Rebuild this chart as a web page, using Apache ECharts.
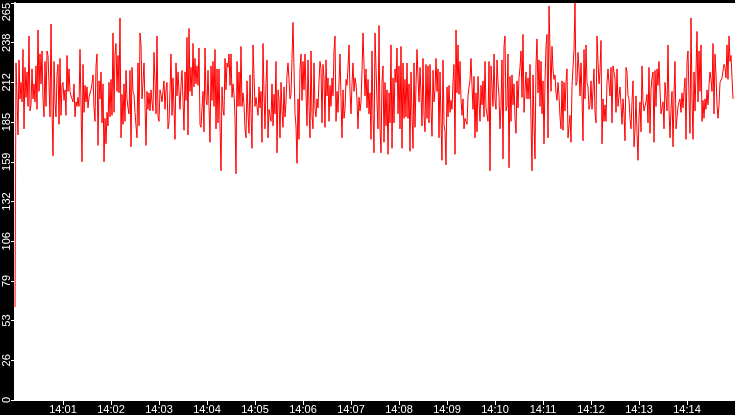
<!DOCTYPE html>
<html>
<head>
<meta charset="utf-8">
<script src="https://cdn.jsdelivr.net/npm/echarts@6/dist/echarts.min.js"></script>
<style>
html,body{margin:0;padding:0;background:#000;}
#chart{width:735px;height:415px;}
</style>
</head>
<body>
<div id="chart"></div>
<script>
// Sampling: one reading every 1.25 s starting 14:00:00
const sampleSeconds = 1.25;
const xTickLabels = ['14:00','14:01','14:02','14:03','14:04','14:05','14:06','14:07','14:08','14:09','14:10','14:11','14:12','14:13','14:14','14:15'];
const yTickLabels = ['0','26','53','79','106','132','159','185','212','238','265'];

// Values, 14:00:00 - 14:02:28
const valuesA = [62,225,202,177,227,201,212,199,234,181,222,202,219,196,243,193,197,221,201,211,199,223,194,247,206,231,211,233,201,189,226,196,233,230,211,189,251,194,163,226,199,189,217,224,184,228,190,210,212,200,207,190,230,206,221,206,203,201,199,211,189,199,196,202,196,234,197,159,224,192,210,199,209,195,202,205,207,211,217,195,186,223,231,170,213,201,219,185,211,159,188,171,192,183,212,189,214,190,245,192,231,238,206,230,205,255,175,204,184,211,186,220,201,195,191,220,169,222,206];
// 14:02:29 - 14:04:59
const valuesB = [204,192,183,175,225,183,245,237,201,212,225,197,170,206,194,205,193,207,199,193,232,212,191,243,189,186,207,204,199,200,213,194,207,212,181,185,206,231,190,215,195,174,225,203,219,206,194,210,220,200,180,219,200,242,177,248,206,222,203,238,209,228,211,223,210,235,184,182,195,206,179,235,201,197,220,196,172,223,200,226,196,234,181,221,185,221,183,153,209,194,190,228,207,225,222,231,210,231,202,211,204,189,151,226,196,219,196,236,196,205,197,181,175,213,191,178,217,192,168,237];
// 14:05 - 14:07:29
const valuesC = [217,196,202,203,190,209,195,206,172,238,205,181,211,227,175,194,190,186,211,183,204,191,226,165,207,201,175,212,193,182,209,189,199,217,225,214,201,204,228,252,221,191,183,158,201,174,221,231,200,226,207,231,205,183,227,196,175,233,190,181,225,194,189,201,195,213,226,221,185,224,215,182,227,203,215,186,210,196,215,203,233,243,186,206,192,211,231,201,175,207,188,194,214,210,222,237,206,191,211,225,206,215,211,200,181,202,193,199,220,245,224,203,221,195,214,191,205,174,233,191];
// 14:07:30 - 14:09:59
const valuesD = [165,245,222,199,181,250,181,165,212,223,172,212,183,207,164,205,185,237,168,215,185,221,212,235,191,223,181,236,168,225,188,214,189,225,188,211,166,219,190,168,225,182,210,234,215,199,222,204,183,228,190,179,224,188,223,185,224,195,176,220,199,207,228,206,221,175,219,186,160,227,184,179,157,209,189,210,192,200,194,212,224,164,247,205,237,204,226,201,190,201,181,188,186,184,203,209,213,228,210,194,216,175,205,179,216,199,186,210,197,213,189,226,195,194,186,226,153,223,224,196];
// 14:10 - 14:12:29
const valuesE = [231,200,194,227,212,203,181,196,227,161,236,243,193,196,231,155,216,186,217,197,211,188,178,213,195,215,222,233,202,244,192,206,219,201,215,201,224,186,153,217,185,161,224,241,205,227,196,226,191,213,171,213,236,244,175,263,233,206,236,221,214,217,205,200,212,203,189,181,213,180,212,193,212,221,175,183,190,172,210,211,234,265,210,212,232,221,203,225,203,173,234,201,237,212,209,194,197,213,194,194,221,192,185,243,226,211,219,240,171,201,186,197,186,212,221,211,203,222,185,223];
// 14:12:30 - 14:14:58
const valuesF = [222,215,192,221,196,203,209,197,184,201,191,173,222,219,203,201,188,181,199,213,169,180,203,178,160,189,199,179,223,199,193,192,199,204,185,222,178,207,215,219,172,220,196,221,210,226,207,191,190,199,181,212,202,193,237,194,175,194,206,169,203,226,181,180,196,199,201,192,205,195,206,215,174,226,233,202,178,255,201,174,219,193,219,246,199,233,206,237,186,200,188,201,194,207,197,210,219,214,206,238,191,231,217,197,188,197,212,213,215,215,224,222,215,237,214,243,226,230,215,201];

const allValues = [].concat(valuesA, valuesB, valuesC, valuesD, valuesE, valuesF);
const seriesData = allValues.map((v, i) => [i * sampleSeconds, v]);

const chart = echarts.init(document.getElementById('chart'), null, {renderer: 'canvas'});
const labelFont = {color: '#fff', fontFamily: 'Liberation Sans', fontSize: 11};
chart.setOption({
  backgroundColor: '#000',
  animation: false,
  grid: {left: 15, right: 0, top: 0, bottom: 15, show: true, backgroundColor: '#fff', borderWidth: 0},
  xAxis: {
    type: 'value', min: 0, max: 900, interval: 60,
    axisLine: {show: true, lineStyle: {color: '#fff', width: 1}},
    axisTick: {show: true, length: 5, lineStyle: {color: '#fff'}},
    splitLine: {show: false},
    axisLabel: Object.assign({margin: 4, showMinLabel: false, showMaxLabel: false,
      formatter: v => xTickLabels[Math.round(v / 60)]}, labelFont)
  },
  yAxis: {
    type: 'value', min: 0, max: 265, interval: 26.5,
    axisLine: {show: true, lineStyle: {color: '#fff', width: 2}},
    axisTick: {show: true, length: 4, lineStyle: {color: '#fff'}},
    splitLine: {show: false},
    axisLabel: Object.assign({rotate: 90, margin: 3, alignMaxLabel: 'right',
      formatter: v => yTickLabels[Math.round(v / 26.5)]}, labelFont)
  },
  series: [{
    type: 'line',
    data: seriesData,
    showSymbol: false,
    symbol: 'none',
    sampling: null,
    lineStyle: {color: '#ff0000', width: 1},
    itemStyle: {color: '#ff0000'}
  }]
});
</script>
</body>
</html>
